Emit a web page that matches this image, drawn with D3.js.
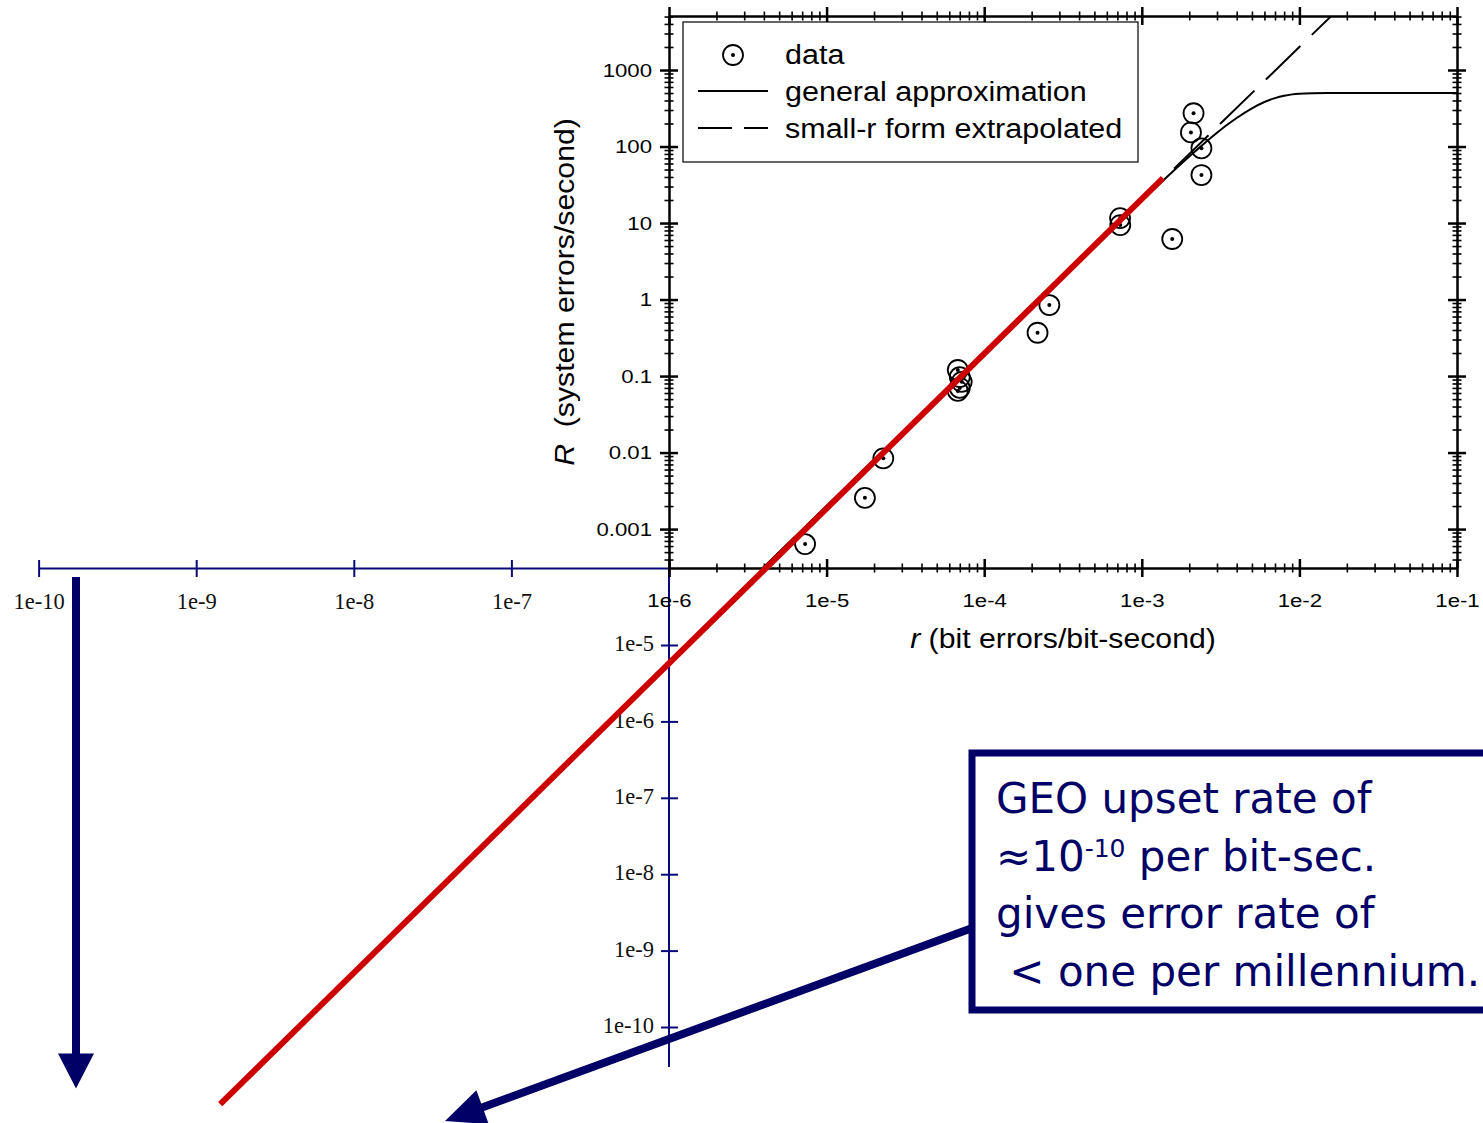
<!DOCTYPE html>
<html><head><meta charset="utf-8">
<script src="https://cdn.jsdelivr.net/npm/d3@7"></script>
<style>body{margin:0;background:#fff}svg{display:block}</style>
</head><body><svg id="c" width="1483" height="1123"></svg>
<script>
// ---------------- data ----------------
const xTickValues = [1e-6, 1e-5, 1e-4, 1e-3, 1e-2, 1e-1];
const xTickLabels = ["1e-6", "1e-5", "1e-4", "1e-3", "1e-2", "1e-1"];
const yTickValues = [1e-3, 1e-2, 1e-1, 1, 10, 100, 1000];
const yTickLabels = ["0.001", "0.01", "0.1", "1", "10", "100", "1000"];

// measured points: r (bit errors/bit-second) and R (system errors/second)
const dataR    = [7.3e-6, 1.75e-5, 2.29e-5, 6.8e-5, 7.0e-5, 7.2e-5, 7.0e-5, 6.8e-5, 2.18e-4, 2.59e-4, 7.28e-4, 7.3e-4, 1.56e-3, 2.13e-3, 2.05e-3, 2.39e-3, 2.39e-3];
const dataRate = [6.37e-4, 2.56e-3, 8.4e-3, 0.12, 0.097, 0.084, 0.070, 0.064, 0.368, 0.847, 11.6, 9.4, 6.18, 272, 153, 94.7, 42.4];

// general approximation curve
const approxR    = [1e-6, 1e-5, 1e-4, 5e-4, 1e-3, 1.5e-3, 2e-3, 2.5e-3, 3e-3, 3.5e-3, 4e-3, 5e-3, 6e-3, 7e-3, 8e-3, 9e-3, 1e-2, 1.2e-2, 1.5e-2, 2e-2, 1e-1];
const approxRate = [2e-5, 2e-3, 0.2, 4.98, 19.6, 43, 74, 110.6, 151, 193.7, 236, 316, 382, 429, 461, 480.4, 491, 498.4, 500, 500, 500];

// small-r form extrapolated (straight line on log-log)
const smallR    = [1e-6, 1.6e-2];
const smallRate = [2e-5, 5120];

// red extrapolation line
const redR    = [1.42e-9, 1.363e-3];
const redRate = [3.05e-11, 38.7];

// extended (blue) axes
const blueXTickValues = [1e-10, 1e-9, 1e-8, 1e-7, 1e-6];
const blueXTickLabels = ["1e-10", "1e-9", "1e-8", "1e-7", ""];
const blueYTickValues = [1e-5, 1e-6, 1e-7, 1e-8, 1e-9, 1e-10];
const blueYTickLabels = ["1e-5", "1e-6", "1e-7", "1e-8", "1e-9", "1e-10"];

const legendLabels = ["data", "general approximation", "small-r form extrapolated"];
const xTitleItalic = "r", xTitleRest = " (bit errors/bit-second)";
const yTitleItalic = "R", yTitleRest = "\u00a0 (system errors/second)";
const calloutLine1 = "GEO upset rate of";
const calloutLine2a = "\u224810", calloutLine2sup = "-10", calloutLine2b = " per bit-sec.";
const calloutLine3 = "gives error rate of";
const calloutLine4 = "\u00a0< one per millennium.";

// ---------------- setup ----------------
const FONT_SANS = "'Liberation Sans', Arial, Helvetica, sans-serif";
const FONT_SERIF = "'Liberation Serif', 'Times New Roman', serif";
const FONT_CALLOUT = "'DejaVu Sans', Verdana, Tahoma, sans-serif";
const NAVY = "#0a0a78";
const ARROW = "#000066";

const svg = d3.select("#c");
const x = d3.scaleLog().domain([1e-6, 1e-1]).range([669, 1457]);
const y = d3.scaleLog().domain([3.1e-4, 5080]).range([568, 16]);
const xb = d3.scaleLog().domain([1e-10, 1e-6]).range([x(1e-10), x(1e-6)]);
const yb = d3.scaleLog().domain([1e-5, 1e-10]).range([645, 1027]);

function minors(lo, hi) {
  const out = [];
  for (let k = Math.floor(Math.log10(lo)) - 1; k <= Math.ceil(Math.log10(hi)); k++) {
    for (let m = 2; m <= 9; m++) {
      const v = m * Math.pow(10, k);
      if (v >= lo && v <= hi) out.push(v);
    }
  }
  return out;
}

// ---------------- blue extended axes ----------------
const bx = svg.append("g").attr("transform", `translate(0,${y(3.1e-4)})`);
bx.call(d3.axisBottom(xb).tickValues(blueXTickValues).tickSizeInner(0).tickSizeOuter(0).tickPadding(0)
  .tickFormat((d, i) => blueXTickLabels[i]));
bx.select(".domain").attr("stroke", NAVY).attr("stroke-width", 2);
bx.selectAll(".tick line").attr("stroke", NAVY).attr("stroke-width", 2).attr("y1", -8).attr("y2", 9);
bx.selectAll(".tick text").attr("y", 41).attr("dy", null).attr("font-family", FONT_SERIF)
  .attr("font-size", 22.5).attr("fill", "#111");
bx.selectAll(".tick text").filter(function () { return !this.textContent; }).remove();

svg.append("line").attr("x1", x(1e-6)).attr("x2", x(1e-6)).attr("y1", y(3.1e-4)).attr("y2", 1067)
  .attr("stroke", NAVY).attr("stroke-width", 2);
const by = svg.append("g").attr("transform", `translate(${x(1e-6)},0)`);
by.call(d3.axisLeft(yb).tickValues(blueYTickValues).tickSizeInner(0).tickSizeOuter(0).tickPadding(0)
  .tickFormat((d, i) => blueYTickLabels[i]));
by.select(".domain").remove();
by.selectAll(".tick line").attr("stroke", NAVY).attr("stroke-width", 2).attr("x1", -8).attr("x2", 9);
by.selectAll(".tick text").attr("x", -15).attr("dy", "0.25em").attr("font-family", FONT_SERIF)
  .attr("font-size", 22.5).attr("fill", "#111");

// ---------------- black plot frame ----------------
const SX_TICK = 1.2;
function blackAxis(gen, tx, ty, majors, minorVals, labels, labelTf, vertical) {
  const g = svg.append("g").attr("transform", `translate(${tx},${ty})`);
  const lmap = new Map(majors.map((v, i) => [v, labels ? labels[i] : ""]));
  g.call(gen.tickValues(majors.concat(minorVals)).tickSizeInner(0).tickSizeOuter(0).tickPadding(0)
    .tickFormat(d => lmap.get(d) || ""));
  g.select(".domain").attr("stroke", "#000").attr("stroke-width", 2.5);
  g.selectAll(".tick").each(function (d) {
    const major = lmap.has(d);
    const L = major ? 9 : 4.5;
    const ln = d3.select(this).select("line").attr("stroke", "#000").attr("stroke-width", major ? 2.5 : 1.6);
    if (vertical) ln.attr("x1", -L).attr("x2", L).attr("y1", 0).attr("y2", 0);
    else ln.attr("y1", -L).attr("y2", L).attr("x1", 0).attr("x2", 0);
  });
  g.selectAll(".tick text").filter(function () { return !this.textContent; }).remove();
  g.selectAll(".tick text").attr("x", 0).attr("y", 0).attr("dy", null)
    .attr("font-family", FONT_SANS).attr("font-size", 18.5).attr("fill", "#000")
    .attr("transform", labelTf);
  return g;
}
const xMinor = minors(1e-6, 1e-1).filter(v => !xTickValues.includes(v));
const yMinor = minors(3.1e-4, 5080).filter(v => !yTickValues.includes(v));

blackAxis(d3.axisBottom(x), 0, y(3.1e-4), xTickValues, xMinor, xTickLabels, `translate(0,39) scale(${SX_TICK},1)`, false);
blackAxis(d3.axisTop(x), 0, y(5080), xTickValues, xMinor, null, null, false);
blackAxis(d3.axisLeft(y), x(1e-6), 0, yTickValues, yMinor, yTickLabels, `translate(-17,6) scale(${SX_TICK},1)`, true);
blackAxis(d3.axisRight(y), x(1e-1), 0, yTickValues, yMinor, null, null, true);

// axis titles
const SX_TXT = 1.12;
const xt = svg.append("text").attr("text-anchor", "middle").attr("font-family", FONT_SANS).attr("font-size", 27)
  .attr("transform", `translate(1063,648) scale(${SX_TXT},1)`);
xt.append("tspan").attr("font-style", "italic").text(xTitleItalic);
xt.append("tspan").text(xTitleRest);
const yt = svg.append("text").attr("text-anchor", "middle").attr("font-family", FONT_SANS).attr("font-size", 27)
  .attr("transform", `translate(574,292) rotate(-90) scale(${SX_TXT},1)`);
yt.append("tspan").attr("font-style", "italic").text(yTitleItalic);
yt.append("tspan").text(yTitleRest);

// ---------------- plot content ----------------
svg.append("clipPath").attr("id", "plotclip").append("rect")
  .attr("x", x(1e-6)).attr("y", y(5080)).attr("width", x(1e-1) - x(1e-6)).attr("height", y(3.1e-4) - y(5080));
const plot = svg.append("g").attr("clip-path", "url(#plotclip)");

const line = d3.line().x(d => x(d[0])).y(d => y(d[1]));
plot.append("path").datum(smallR.map((r, i) => [r, smallRate[i]]))
  .attr("d", line).attr("fill", "none").attr("stroke", "#000").attr("stroke-width", 2)
  .attr("stroke-dasharray", "48,16");
plot.append("path").datum(approxR.map((r, i) => [r, approxRate[i]]))
  .attr("d", line.curve(d3.curveMonotoneX)).attr("fill", "none").attr("stroke", "#000").attr("stroke-width", 2);

const pts = plot.selectAll("g.pt").data(dataR.map((r, i) => [r, dataRate[i]])).join("g")
  .attr("class", "pt").attr("transform", d => `translate(${x(d[0])},${y(d[1])})`);
pts.append("circle").attr("r", 10).attr("fill", "none").attr("stroke", "#000").attr("stroke-width", 1.8);
pts.append("circle").attr("r", 2).attr("fill", "#000");

// legend
const lg = svg.append("g");
lg.append("rect").attr("x", 683).attr("y", 22).attr("width", 455).attr("height", 140)
  .attr("fill", "#fff").attr("stroke", "#000").attr("stroke-width", 1.2);
lg.append("circle").attr("cx", 733).attr("cy", 55).attr("r", 10).attr("fill", "none").attr("stroke", "#000").attr("stroke-width", 1.8);
lg.append("circle").attr("cx", 733).attr("cy", 55).attr("r", 2).attr("fill", "#000");
lg.append("line").attr("x1", 698).attr("x2", 768).attr("y1", 91).attr("y2", 91).attr("stroke", "#000").attr("stroke-width", 2);
lg.append("line").attr("x1", 698).attr("x2", 768).attr("y1", 128).attr("y2", 128).attr("stroke", "#000").attr("stroke-width", 2)
  .attr("stroke-dasharray", "34,12");
[64, 101, 138].forEach((by0, i) => {
  lg.append("text").attr("font-family", FONT_SANS).attr("font-size", 27)
    .attr("transform", `translate(785,${by0}) scale(1.13,1)`).text(legendLabels[i]);
});

// red extrapolation line (unclipped)
svg.append("path").datum(redR.map((r, i) => [r, redRate[i]]))
  .attr("d", d3.line().x(d => x(d[0])).y(d => y(d[1])))
  .attr("fill", "none").attr("stroke", "#cc0000").attr("stroke-width", 6);

// ---------------- annotations ----------------
function arrow(x0, y0, x1, y1, w, headLen, headHalf) {
  const dx = x1 - x0, dy = y1 - y0, L = Math.hypot(dx, dy);
  const ux = dx / L, uy = dy / L, nx = -uy, ny = ux;
  const bxp = x1 - ux * headLen, byp = y1 - uy * headLen;
  svg.append("line").attr("x1", x0).attr("y1", y0).attr("x2", bxp + ux * 2).attr("y2", byp + uy * 2)
    .attr("stroke", ARROW).attr("stroke-width", w);
  svg.append("path").attr("d", `M${x1},${y1}L${bxp + nx * headHalf},${byp + ny * headHalf}L${bxp - nx * headHalf},${byp - ny * headHalf}Z`)
    .attr("fill", ARROW);
}
arrow(76, 577, 76, 1088.5, 8, 35, 18);
arrow(975, 927, 445, 1121, 8, 40, 18);

// callout box
svg.append("rect").attr("x", 972).attr("y", 753).attr("width", 620).attr("height", 257)
  .attr("fill", "#fff").attr("stroke", ARROW).attr("stroke-width", 7);
const ct = svg.append("g").attr("font-family", FONT_CALLOUT).attr("font-size", 42).attr("fill", ARROW);
ct.append("text").attr("x", 996).attr("y", 813).text(calloutLine1);
const l2 = ct.append("text").attr("x", 996).attr("y", 871);
l2.append("tspan").text(calloutLine2a);
l2.append("tspan").attr("font-size", 25).attr("dy", -14).text(calloutLine2sup);
l2.append("tspan").attr("dy", 14).text(calloutLine2b);
ct.append("text").attr("x", 996).attr("y", 928).text(calloutLine3);
ct.append("text").attr("x", 996).attr("y", 986).style("white-space", "pre").text(calloutLine4);
</script>
</body></html>
